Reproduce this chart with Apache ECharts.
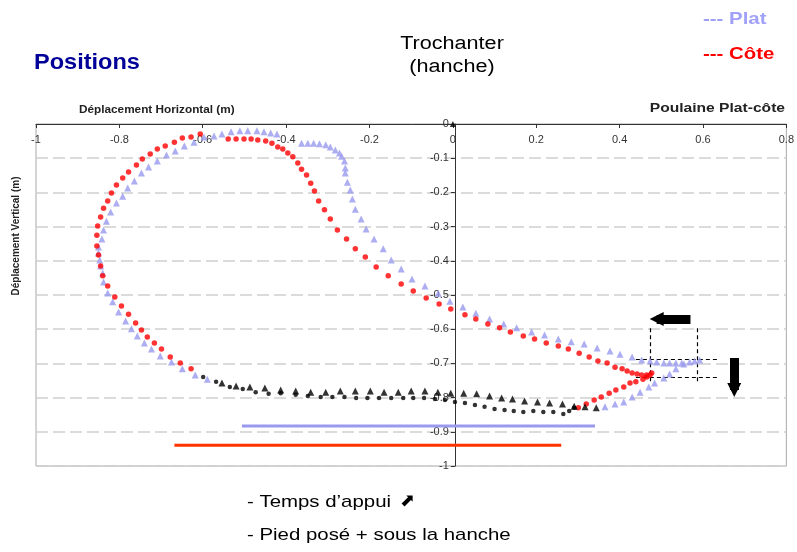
<!DOCTYPE html>
<html>
<head>
<meta charset="utf-8">
<script src="https://cdn.jsdelivr.net/npm/echarts@6.0.0/dist/echarts.min.js"></script>
<style>
  html, body { margin: 0; padding: 0; background: #fff; }
  #chart { width: 797px; height: 552px; }
</style>
</head>
<body>
<div id="chart"></div>
<script>
// axes
const xTicks = [-1, -0.8, -0.6, -0.4, -0.2, 0, 0.2, 0.4, 0.6, 0.8]
const yTicks = [0, -0.1, -0.2, -0.3, -0.4, -0.5, -0.6, -0.7, -0.8, -0.9, -1]

// Plat : phase aérienne (triangles lavande)
const platSwing = [
  [0.365, -0.827], [0.389, -0.819], [0.410, -0.813], [0.430, -0.798], [0.449, -0.784],
  [0.470, -0.769], [0.484, -0.757], [0.506, -0.743], [0.520, -0.731], [0.535, -0.716],
  [0.554, -0.702], [0.568, -0.696], [0.580, -0.693], [0.592, -0.690],
  [0.549, -0.699], [0.535, -0.699], [0.520, -0.699], [0.506, -0.699], [0.489, -0.696],
  [0.473, -0.693], [0.453, -0.690], [0.430, -0.681], [0.401, -0.673], [0.377, -0.664],
  [0.346, -0.655], [0.315, -0.643], [0.284, -0.637], [0.253, -0.629], [0.220, -0.617],
  [0.189, -0.608], [0.153, -0.596], [0.122, -0.585], [0.088, -0.570], [0.055, -0.553],
  [0.024, -0.535], [-0.007, -0.518], [-0.035, -0.495], [-0.067, -0.474], [-0.098, -0.453],
  [-0.124, -0.424], [-0.148, -0.398], [-0.167, -0.365], [-0.189, -0.336], [-0.208, -0.307],
  [-0.220, -0.278], [-0.234, -0.249], [-0.241, -0.219], [-0.246, -0.193], [-0.253, -0.170],
  [-0.258, -0.143], [-0.258, -0.129], [-0.260, -0.108], [-0.267, -0.094], [-0.272, -0.085],
  [-0.282, -0.076], [-0.294, -0.067], [-0.305, -0.061], [-0.320, -0.058], [-0.334, -0.056],
  [-0.348, -0.056], [-0.363, -0.056],
  [-0.422, -0.029], [-0.437, -0.026], [-0.453, -0.023], [-0.470, -0.020], [-0.492, -0.020],
  [-0.511, -0.020], [-0.532, -0.023], [-0.554, -0.029], [-0.573, -0.035], [-0.597, -0.038],
  [-0.621, -0.053], [-0.644, -0.064], [-0.666, -0.079], [-0.687, -0.091], [-0.709, -0.108],
  [-0.730, -0.126], [-0.747, -0.143], [-0.764, -0.167], [-0.780, -0.187], [-0.792, -0.211],
  [-0.807, -0.231], [-0.821, -0.257], [-0.831, -0.284], [-0.838, -0.310], [-0.842, -0.336],
  [-0.850, -0.360], [-0.850, -0.377], [-0.847, -0.398], [-0.845, -0.415], [-0.840, -0.436],
  [-0.838, -0.462], [-0.828, -0.494], [-0.816, -0.520], [-0.802, -0.550], [-0.785, -0.576],
  [-0.771, -0.599], [-0.757, -0.620], [-0.740, -0.640], [-0.723, -0.658], [-0.702, -0.678],
  [-0.675, -0.696], [-0.649, -0.716], [-0.618, -0.734], [-0.589, -0.746]
]

// Plat : temps d'appui (triangles noirs)
const platStance = [
  [-0.554, -0.757], [-0.520, -0.766], [-0.487, -0.769], [-0.451, -0.772], [-0.413, -0.778],
  [-0.377, -0.781], [-0.341, -0.784], [-0.305, -0.784], [-0.270, -0.781], [-0.234, -0.781],
  [-0.198, -0.781], [-0.165, -0.784], [-0.131, -0.784], [-0.100, -0.781], [-0.067, -0.781],
  [-0.036, -0.784], [-0.005, -0.787], [0.026, -0.787], [0.057, -0.789], [0.088, -0.795],
  [0.117, -0.801], [0.143, -0.804], [0.172, -0.810], [0.203, -0.813], [0.232, -0.816],
  [0.263, -0.819], [0.291, -0.825], [0.317, -0.827], [0.344, -0.830]
]

// Côte : phase aérienne (points rouges)
const coteSwing = [
  [0.301, -0.830], [0.320, -0.819], [0.339, -0.807], [0.356, -0.798], [0.375, -0.787],
  [0.391, -0.778], [0.410, -0.769], [0.425, -0.757], [0.439, -0.754], [0.456, -0.746],
  [0.465, -0.740], [0.473, -0.734], [0.477, -0.728], [0.465, -0.734], [0.453, -0.734],
  [0.442, -0.731], [0.430, -0.728], [0.418, -0.722], [0.406, -0.716], [0.389, -0.711],
  [0.370, -0.699], [0.348, -0.693], [0.327, -0.681], [0.303, -0.670], [0.277, -0.658],
  [0.253, -0.649], [0.224, -0.640], [0.196, -0.629], [0.169, -0.620], [0.138, -0.608],
  [0.112, -0.596], [0.084, -0.585], [0.055, -0.570], [0.029, -0.558], [-0.005, -0.541],
  [-0.033, -0.526], [-0.064, -0.509], [-0.095, -0.488], [-0.124, -0.468], [-0.155, -0.444],
  [-0.184, -0.418], [-0.210, -0.389], [-0.234, -0.365], [-0.255, -0.336], [-0.277, -0.310],
  [-0.294, -0.278], [-0.308, -0.251], [-0.322, -0.225], [-0.332, -0.196], [-0.341, -0.173],
  [-0.351, -0.149], [-0.363, -0.132], [-0.372, -0.114], [-0.384, -0.096], [-0.396, -0.085],
  [-0.408, -0.073], [-0.420, -0.067], [-0.434, -0.056], [-0.449, -0.050], [-0.468, -0.047],
  [-0.484, -0.044], [-0.501, -0.044], [-0.520, -0.044], [-0.539, -0.044],
  [-0.606, -0.029], [-0.628, -0.038], [-0.649, -0.041], [-0.668, -0.053], [-0.690, -0.064],
  [-0.709, -0.073], [-0.726, -0.088], [-0.745, -0.102], [-0.759, -0.120], [-0.778, -0.140],
  [-0.792, -0.158], [-0.807, -0.178], [-0.819, -0.202], [-0.828, -0.225], [-0.838, -0.246],
  [-0.845, -0.272], [-0.852, -0.298], [-0.854, -0.325], [-0.854, -0.357], [-0.850, -0.383],
  [-0.845, -0.415], [-0.840, -0.444], [-0.828, -0.474], [-0.811, -0.506], [-0.795, -0.532],
  [-0.778, -0.556], [-0.761, -0.582], [-0.747, -0.602], [-0.733, -0.623], [-0.716, -0.640],
  [-0.699, -0.658], [-0.678, -0.681], [-0.654, -0.699], [-0.628, -0.716]
]

// Côte : temps d'appui (points noirs)
const coteStance = [
  [-0.599, -0.740], [-0.568, -0.754], [-0.535, -0.769], [-0.504, -0.775], [-0.473, -0.784],
  [-0.442, -0.789], [-0.413, -0.787], [-0.377, -0.792], [-0.348, -0.795], [-0.317, -0.798],
  [-0.289, -0.798], [-0.260, -0.798], [-0.232, -0.801], [-0.205, -0.801], [-0.177, -0.801],
  [-0.148, -0.801], [-0.119, -0.801], [-0.095, -0.801], [-0.069, -0.801], [-0.043, -0.804],
  [-0.019, -0.807], [0.005, -0.813], [0.029, -0.816], [0.053, -0.822], [0.076, -0.827],
  [0.100, -0.833], [0.124, -0.836], [0.146, -0.839], [0.169, -0.842], [0.193, -0.839],
  [0.217, -0.842], [0.241, -0.842], [0.265, -0.848], [0.279, -0.839], [0.291, -0.830]
]

const trochanter = [[0, 0]]

// barres de durée d'appui
const platBar = [[-0.506, -0.883], [0.341, -0.883]]
const coteBar = [[-0.668, -0.939], [0.260, -0.939]]

// cadre pointillé autour de la pose du pied
const boxLines = [
  [[0.473, -0.597], [0.473, -0.757]],
  [[0.587, -0.597], [0.587, -0.757]],
  [[0.439, -0.687], [0.635, -0.687]],
  [[0.439, -0.740], [0.635, -0.740]]
]

// flèches (départ, centre de la pointe)
const arrows = [
  [[0.570, -0.570], [0.489, -0.570]],
  [[0.675, -0.684], [0.675, -0.778]]
]

const FONT = "'Liberation Sans', Arial, sans-serif"
const LAVANDE = '#9999ee'
const GRID_LEFT = 36
const GRID_RIGHT = 7
const PLOT_W = 797 - GRID_LEFT - GRID_RIGHT

const txt = (text, x, y, size, opts = {}) => ({
  type: 'text',
  x: x,
  y: y,
  scaleX: opts.scaleX || 1,
  rotation: opts.rotation || 0,
  style: {
    text: text,
    fill: opts.color || '#000',
    font: (opts.bold ? 'bold ' : '') + size + 'px ' + (opts.family || FONT),
    textAlign: opts.align || 'left',
    textVerticalAlign: 'middle',
    verticalAlign: 'middle'
  },
  z: 100
})

// l'axe vertical passe par x = 0
const yAxisShift = PLOT_W * (0 - xTicks[0]) / (xTicks[xTicks.length - 1] - xTicks[0])

const chart = echarts.init(document.getElementById('chart'))

chart.setOption({
  animation: false,
  backgroundColor: '#fff',
  grid: {
    left: GRID_LEFT,
    right: GRID_RIGHT,
    top: 124,
    bottom: 86,
    show: true,
    borderColor: '#a8a8a8',
    borderWidth: 1
  },
  xAxis: {
    type: 'value',
    position: 'top',
    min: xTicks[0],
    max: xTicks[xTicks.length - 1],
    interval: 0.2,
    axisLine: { onZero: false, lineStyle: { color: '#333', width: 1 } },
    axisTick: { inside: true, length: 4, lineStyle: { color: '#333' } },
    axisLabel: {
      inside: true,
      margin: 10,
      color: '#333',
      fontSize: 11,
      fontFamily: FONT,
      showMinLabel: true,
      showMaxLabel: true
    },
    splitLine: { show: false }
  },
  yAxis: {
    type: 'value',
    position: 'left',
    offset: -yAxisShift,
    min: yTicks[yTicks.length - 1],
    max: yTicks[0],
    interval: 0.1,
    axisLine: { onZero: false, lineStyle: { color: '#333', width: 1 } },
    axisTick: { length: 4, lineStyle: { color: '#333' } },
    axisLabel: {
      margin: 6,
      color: '#333',
      fontSize: 11,
      fontFamily: FONT,
      showMinLabel: true,
      showMaxLabel: true
    },
    splitLine: {
      show: true,
      lineStyle: { color: '#cfcfcf', width: 1.5, type: [12, 5] }
    }
  },
  series: [
    {
      name: 'Plat',
      type: 'scatter',
      symbol: 'triangle',
      symbolSize: 7,
      itemStyle: { color: LAVANDE },
      data: platSwing
    },
    {
      name: 'Côte',
      type: 'scatter',
      symbol: 'circle',
      symbolSize: 5.5,
      itemStyle: { color: '#ff0000' },
      data: coteSwing
    },
    {
      name: 'Appui plat',
      type: 'scatter',
      symbol: 'triangle',
      symbolSize: 7,
      itemStyle: { color: '#000' },
      data: platStance
    },
    {
      name: 'Appui côte',
      type: 'scatter',
      symbol: 'circle',
      symbolSize: 4.5,
      itemStyle: { color: '#000' },
      data: coteStance
    },
    {
      name: 'Trochanter',
      type: 'scatter',
      symbol: 'triangle',
      symbolSize: 6,
      itemStyle: { color: '#000' },
      data: trochanter
    },
    {
      type: 'line',
      symbol: 'none',
      lineStyle: { color: LAVANDE, width: 3 },
      data: platBar
    },
    {
      type: 'line',
      symbol: 'none',
      lineStyle: { color: '#ff3300', width: 3 },
      data: coteBar
    },
    {
      type: 'lines',
      coordinateSystem: 'cartesian2d',
      lineStyle: { color: '#000', width: 1.2, type: [4, 3], opacity: 1 },
      data: boxLines.map(c => ({ coords: c }))
    },
    {
      type: 'lines',
      coordinateSystem: 'cartesian2d',
      symbol: ['none', 'triangle'],
      symbolSize: [20, 14],
      lineStyle: { color: '#000', width: 9, opacity: 1 },
      data: arrows.map(c => ({ coords: c }))
    }
  ],
  graphic: [
    txt('Positions', 34, 63, 22, { bold: true, color: '#000099', scaleX: 1.07 }),
    txt('Trochanter', 452, 44, 18, { align: 'center', scaleX: 1.2 }),
    txt('(hanche)', 452, 67, 18, { align: 'center', scaleX: 1.2 }),
    txt('--- Plat', 703, 19, 17, { bold: true, color: '#a0a0f8', scaleX: 1.2 }),
    txt('--- Côte', 703, 54, 17, { bold: true, color: '#ff0000', scaleX: 1.2 }),
    txt('Déplacement Horizontal (m)', 79, 110, 11, { bold: true, color: '#222', scaleX: 1.07 }),
    txt('Poulaine Plat-côte', 785, 108, 13, { bold: true, color: '#222', align: 'right', scaleX: 1.2 }),
    txt('Déplacement Vertical (m)', 16, 236, 10, { bold: true, color: '#222', align: 'center', rotation: Math.PI / 2 }),
    txt('- Temps d\u2019appui', 247, 502, 17, { scaleX: 1.2 }),
    txt('\u2b08', 400, 501, 18, { family: "'DejaVu Sans', sans-serif" }),
    txt('- Pied posé + sous la hanche', 247, 535, 17, { scaleX: 1.2 })
  ]
})
</script>
</body>
</html>
